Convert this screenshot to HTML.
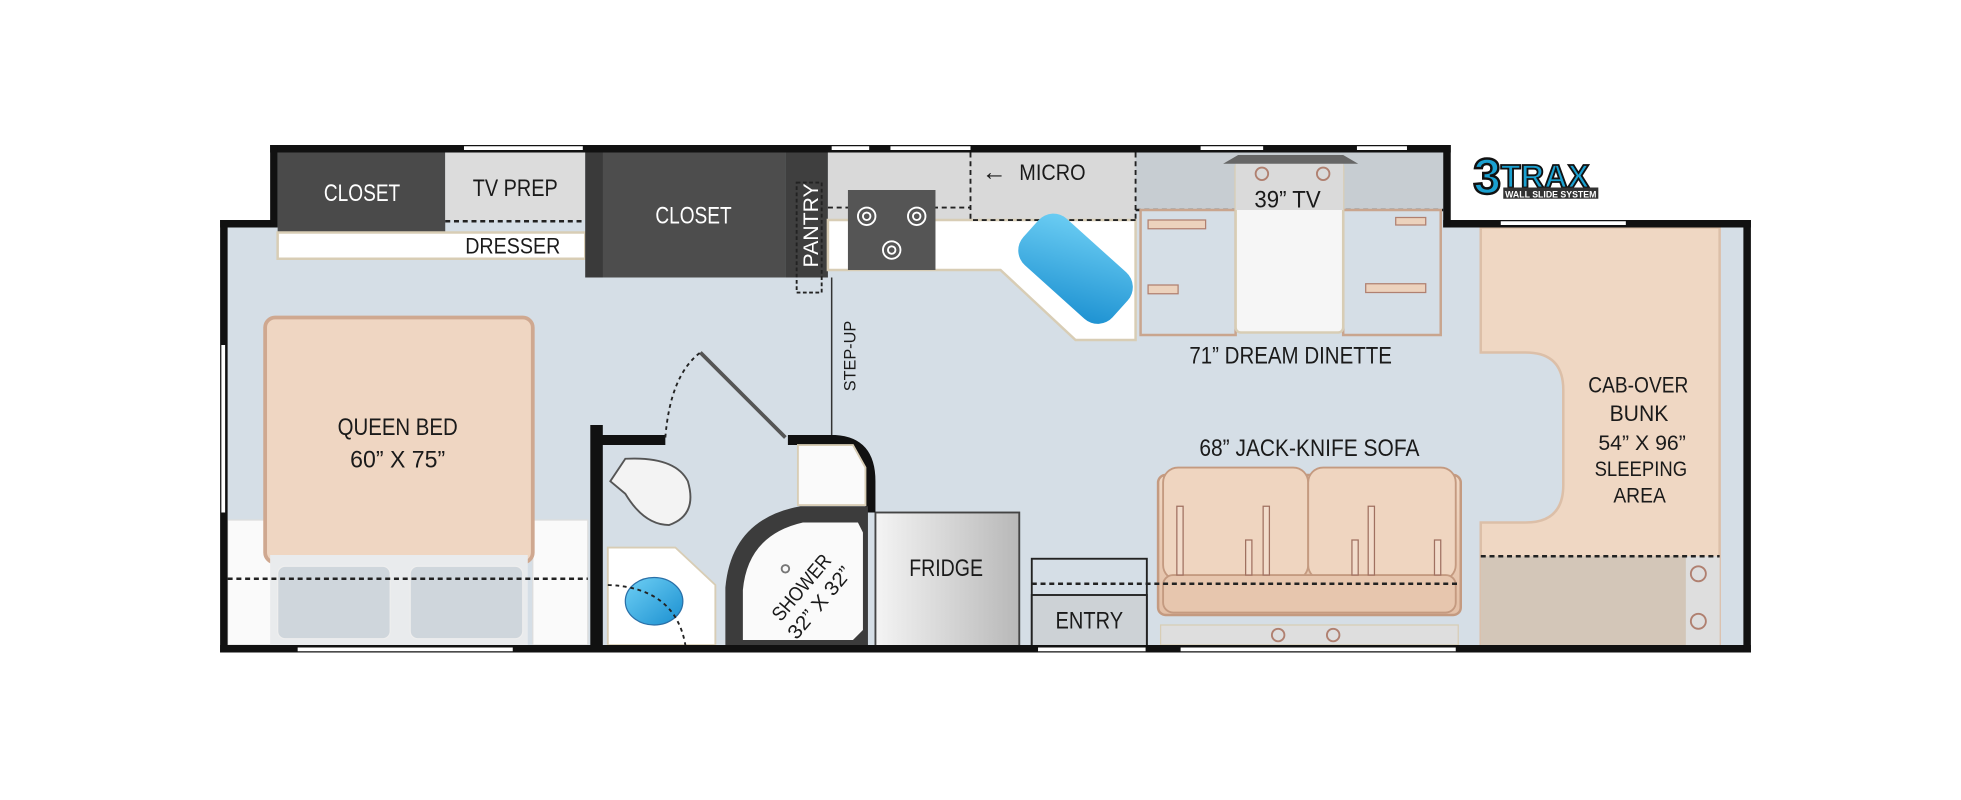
<!DOCTYPE html>
<html><head><meta charset="utf-8"><style>
html,body{margin:0;padding:0;background:#fff;width:1961px;height:800px;overflow:hidden}
svg{display:block}
text{font-family:"Liberation Sans",sans-serif;fill:#1a1a1a}
</style></head><body>
<svg width="1961" height="800" viewBox="0 0 1568 640" preserveAspectRatio="none" xmlns="http://www.w3.org/2000/svg">
<defs>
<linearGradient id="fr" x1="0" x2="1"><stop offset="0" stop-color="#f4f4f4"/><stop offset="1" stop-color="#b8b8b8"/></linearGradient>
<linearGradient id="bl" x1="0" x2="1" y1="0" y2="1"><stop offset="0" stop-color="#6fd0f5"/><stop offset="1" stop-color="#1a8fd0"/></linearGradient>
<linearGradient id="so" x1="0" y1="0" x2="0" y2="1"><stop offset="0" stop-color="#f0d8c4"/><stop offset="1" stop-color="#e3bfa6"/></linearGradient>
</defs>
<rect x="178" y="178" width="1220" height="342" fill="#d5dee6"/>
<rect x="218" y="118" width="938" height="62" fill="#d5dee6"/>
<rect x="222" y="122" width="134" height="64" fill="#4a4a4a"/>
<text x="259" y="161" font-size="19" textLength="61" lengthAdjust="spacingAndGlyphs" style="fill:#fff">CLOSET</text>
<rect x="356" y="122" width="112" height="54" fill="#dcdcdc"/>
<text x="378" y="157" font-size="19" textLength="68" lengthAdjust="spacingAndGlyphs">TV PREP</text>
<rect x="222" y="186" width="246" height="21" fill="#fff" stroke="#d8cdb5" stroke-width="2"/>
<line x1="356" y1="177" x2="468" y2="177" stroke="#222" stroke-width="2" stroke-dasharray="4,3"/>
<text x="372" y="203" font-size="18" textLength="76" lengthAdjust="spacingAndGlyphs">DRESSER</text>
<rect x="468" y="122" width="160" height="100" fill="#4d4d4d"/>
<rect x="468" y="122" width="14" height="100" fill="#3a3a3a"/>
<text x="524" y="179" font-size="19" textLength="61" lengthAdjust="spacingAndGlyphs" style="fill:#fff">CLOSET</text>
<rect x="628" y="122" width="34" height="100" fill="#3f3f3f"/>
<rect x="637" y="146" width="20" height="88" fill="none" stroke="#222" stroke-width="1.5" stroke-dasharray="3,2"/>
<text transform="translate(654,214) rotate(-90)" font-size="17" style="fill:#fff">PANTRY</text>
<rect x="662" y="122" width="246" height="54" fill="#d9d9d9"/>
<path d="M662 176 H908 V272 H860 L800 216 H662 Z" fill="#fff" stroke="#d8cdb5" stroke-width="2"/>
<path d="M776 122 V176 H908" fill="none" stroke="#222" stroke-width="1.5" stroke-dasharray="4,3"/>
<line x1="662" y1="166" x2="776" y2="166" stroke="#222" stroke-width="1.5" stroke-dasharray="4,3"/>
<text x="785" y="144" font-size="20">←</text>
<text x="815" y="144" font-size="18" textLength="53" lengthAdjust="spacingAndGlyphs">MICRO</text>
<rect x="678" y="152" width="70" height="64" fill="#555"/>
<g fill="none" stroke="#fff" stroke-width="1.5"><circle cx="693" cy="173" r="7"/><circle cx="693" cy="173" r="3"/><circle cx="733" cy="173" r="7"/><circle cx="733" cy="173" r="3"/><circle cx="713" cy="200" r="7"/><circle cx="713" cy="200" r="3"/></g>
<rect x="812" y="190" width="96" height="50" rx="16" fill="url(#bl)" transform="rotate(42 860 215)"/>
<rect x="908" y="122" width="246" height="46" fill="#c7cdd2"/>
<line x1="908" y1="168" x2="1154" y2="168" stroke="#222" stroke-width="2" stroke-dasharray="4,3"/>
<line x1="908" y1="122" x2="908" y2="176" stroke="#222" stroke-width="1.5" stroke-dasharray="4,3"/>
<rect x="912" y="168" width="76" height="100" fill="#d5dee6" stroke="#c9a58e" stroke-width="2"/>
<rect x="1074" y="168" width="78" height="100" fill="#d5dee6" stroke="#c9a58e" stroke-width="2"/>
<rect x="988" y="130" width="86" height="136" rx="4" fill="#f6f6f6" stroke="#d8cdb5" stroke-width="2"/>
<rect x="988" y="130" width="86" height="38" fill="#dadada"/>
<path d="M978 131 L990 124 H1074 L1086 131 Z" fill="#666"/>
<circle cx="1009" cy="139" r="5" fill="none" stroke="#b08070" stroke-width="1.5"/><circle cx="1058" cy="139" r="5" fill="none" stroke="#b08070" stroke-width="1.5"/>
<text x="1003" y="166" font-size="19" textLength="53" lengthAdjust="spacingAndGlyphs">39” TV</text>
<g fill="#ecd2bd" stroke="#b08070" stroke-width="1"><rect x="918" y="176" width="46" height="7"/><rect x="918" y="228" width="24" height="7"/><rect x="1116" y="174" width="24" height="6"/><rect x="1092" y="227" width="48" height="7"/></g>
<text x="951" y="291" font-size="19" textLength="162" lengthAdjust="spacingAndGlyphs">71” DREAM DINETTE</text>
<text x="1178" y="155" font-size="40" font-weight="bold" style="fill:#1aa0d0;stroke:#111;stroke-width:2">3</text>
<text x="1200" y="150" font-size="26" font-weight="bold" style="fill:#1aa0d0;stroke:#111;stroke-width:1.5">TRAX</text>
<rect x="1202" y="150" width="76" height="9" fill="#333"/>
<text x="1240" y="158" font-size="7" text-anchor="middle" style="fill:#fff;font-weight:bold">WALL SLIDE SYSTEM</text>
<path d="M1184 182 H1375 V518 H1184 V418 H1220 Q1250 418 1250 388 V312 Q1250 282 1220 282 H1184 Z" fill="#efd7c3" stroke="#dcbfa8" stroke-width="2"/>
<rect x="1184" y="445" width="191" height="73" fill="#d3c6b8"/>
<rect x="1348" y="445" width="27" height="73" fill="#dedede"/>
<line x1="1184" y1="445" x2="1375" y2="445" stroke="#222" stroke-width="2" stroke-dasharray="4,3"/>
<circle cx="1358" cy="459" r="6" fill="none" stroke="#b08070" stroke-width="1.5"/><circle cx="1358" cy="497" r="6" fill="none" stroke="#b08070" stroke-width="1.5"/>
<text x="1270" y="314" font-size="18" textLength="80" lengthAdjust="spacingAndGlyphs">CAB-OVER</text>
<text x="1287" y="337" font-size="18" textLength="47" lengthAdjust="spacingAndGlyphs">BUNK</text>
<text x="1278" y="360" font-size="17" textLength="70" lengthAdjust="spacingAndGlyphs">54” X 96”</text>
<text x="1275" y="381" font-size="17" textLength="74" lengthAdjust="spacingAndGlyphs">SLEEPING</text>
<text x="1290" y="402" font-size="17" textLength="42" lengthAdjust="spacingAndGlyphs">AREA</text>
<text x="959" y="365" font-size="19" textLength="176" lengthAdjust="spacingAndGlyphs">68” JACK-KNIFE SOFA</text>
<rect x="926" y="380" width="242" height="112" rx="6" fill="url(#so)" stroke="#c49a80" stroke-width="2"/>
<rect x="930" y="374" width="116" height="90" rx="12" fill="#efd5c0" stroke="#c49a80" stroke-width="1.5"/>
<rect x="1046" y="374" width="118" height="90" rx="12" fill="#efd5c0" stroke="#c49a80" stroke-width="1.5"/>
<rect x="930" y="460" width="234" height="30" rx="8" fill="#e7c6ae" stroke="#c49a80" stroke-width="1.5"/>
<g fill="#f2dccb" stroke="#a07060" stroke-width="1"><rect x="941" y="405" width="5" height="55"/><rect x="1010" y="405" width="5" height="55"/><rect x="1094" y="405" width="5" height="55"/><rect x="996" y="432" width="5" height="28"/><rect x="1081" y="432" width="5" height="28"/><rect x="1147" y="432" width="5" height="28"/></g>
<line x1="825" y1="467" x2="1166" y2="467" stroke="#222" stroke-width="2" stroke-dasharray="4,3"/>
<rect x="928" y="500" width="238" height="16" fill="#dedede" stroke="#d8cdb5" stroke-width="1"/>
<circle cx="1022" cy="508" r="5" fill="none" stroke="#b08070" stroke-width="1.5"/><circle cx="1066" cy="508" r="5" fill="none" stroke="#b08070" stroke-width="1.5"/>
<rect x="825" y="447" width="92" height="71" fill="none" stroke="#222" stroke-width="1.5"/>
<rect x="825" y="476" width="92" height="42" fill="#cdd2d6" stroke="#222" stroke-width="1.5"/>
<text x="844" y="503" font-size="19" textLength="54" lengthAdjust="spacingAndGlyphs">ENTRY</text>
<rect x="700" y="410" width="115" height="108" fill="url(#fr)" stroke="#444" stroke-width="1.5"/>
<text x="727" y="461" font-size="19" textLength="59" lengthAdjust="spacingAndGlyphs">FRIDGE</text>
<line x1="665" y1="222" x2="665" y2="350" stroke="#333" stroke-width="1.2"/>
<text transform="translate(684,313) rotate(-90)" font-size="13">STEP-UP</text>
<rect x="486" y="356" width="210" height="162" fill="#d5dee6"/>
<path d="M472 340 H482 V520 H472 Z M482 348 H532 V356 H482 Z" fill="#111"/>
<path d="M630 348 H668 Q700 350 700 385 V410 H692 V382 Q690 358 668 356 H630 Z" fill="#111"/>
<line x1="560" y1="282" x2="628" y2="350" stroke="#555" stroke-width="3"/>
<path d="M532 350 Q536 300 560 282" fill="none" stroke="#222" stroke-width="1.5" stroke-dasharray="3,3"/>
<path d="M638 356 H682 L692 374 V404 H638 Z" fill="#fafafa" stroke="#d8cdb5" stroke-width="1.5"/>
<path d="M500 367 Q540 365 550 385 Q558 412 535 420 Q515 420 500 395 L488 385 Z" fill="#f3f3f3" stroke="#555" stroke-width="1.5"/>
<path d="M486 438 H540 L572 468 V516 H486 Z" fill="#fff" stroke="#d8cdb5" stroke-width="1.5"/>
<ellipse cx="523" cy="481" rx="23" ry="19" fill="url(#bl)" stroke="#2a70a8" stroke-width="1"/>
<path d="M486 468 Q540 470 548 516" fill="none" stroke="#222" stroke-width="1.5" stroke-dasharray="3,3"/>
<path d="M580 518 V470 Q585 415 640 405 H694 V518 Z" fill="#3c3c3c"/>
<path d="M594 512 V472 Q598 428 642 418 H686 L690 426 V504 L682 512 Z" fill="#fafafa"/>
<circle cx="628" cy="455" r="3" fill="none" stroke="#777" stroke-width="1.5"/>
<g transform="translate(648,476) rotate(-50)" font-size="16" text-anchor="middle"><text x="0" y="-4" textLength="64" lengthAdjust="spacingAndGlyphs">SHOWER</text><text x="0" y="15" textLength="70" lengthAdjust="spacingAndGlyphs">32” X 32”</text></g>
<rect x="182" y="416" width="36" height="100" fill="#fafafa" stroke="#ddd"/>
<rect x="426" y="416" width="44" height="100" fill="#fafafa" stroke="#ddd"/>
<rect x="212" y="254" width="214" height="196" rx="8" fill="#efd6c2" stroke="#cfa890" stroke-width="3"/>
<rect x="216" y="444" width="206" height="72" fill="#e9ebed"/>
<rect x="222" y="453" width="90" height="58" rx="6" fill="#cfd6dc" stroke="#eee"/>
<rect x="328" y="453" width="90" height="58" rx="6" fill="#cfd6dc" stroke="#eee"/>
<line x1="182" y1="463" x2="470" y2="463" stroke="#222" stroke-width="2" stroke-dasharray="4,3"/>
<text x="270" y="348" font-size="19" textLength="96" lengthAdjust="spacingAndGlyphs">QUEEN BED</text>
<text x="280" y="374" font-size="19" textLength="76" lengthAdjust="spacingAndGlyphs">60” X 75”</text>
<g fill="#111">
<rect x="176" y="176" width="6" height="346"/>
<rect x="176" y="516" width="1224" height="6"/>
<rect x="1394" y="176" width="6" height="346"/>
<rect x="176" y="176" width="42" height="6"/>
<rect x="1154" y="176" width="246" height="6"/>
<rect x="216" y="116" width="944" height="6"/>
<rect x="216" y="116" width="6" height="66"/>
<rect x="1154" y="116" width="6" height="66"/>
</g>
<g fill="#fff">
<rect x="371" y="117" width="95" height="3"/><rect x="665" y="117" width="30" height="3"/><rect x="712" y="117" width="64" height="3"/><rect x="1085" y="117" width="40" height="3"/><rect x="960" y="117" width="50" height="3"/>
<rect x="1200" y="177" width="100" height="3"/>
<rect x="238" y="518" width="172" height="3"/><rect x="830" y="518" width="86" height="3"/><rect x="944" y="518" width="220" height="3"/>
<rect x="177" y="276" width="3" height="134"/>
</g>
</svg>
</body></html>
